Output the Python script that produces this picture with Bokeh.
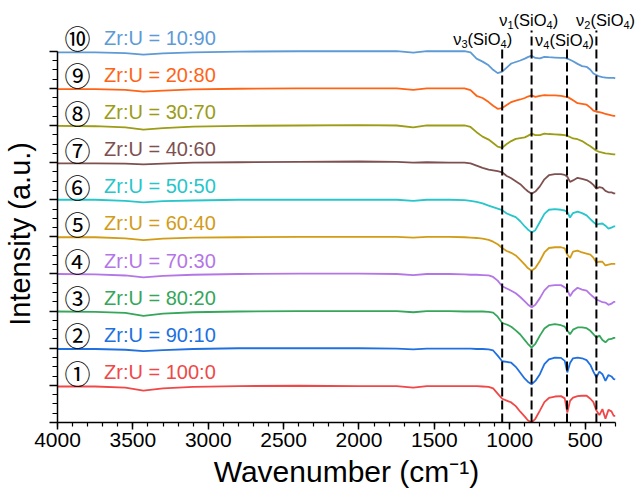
from bokeh.plotting import figure
from bokeh.models import ColumnDataSource, Range1d, FixedTicker, Label
from bokeh.core.properties import value
from bokeh.embed import file_html
from bokeh.resources import INLINE

# ---------------- data ----------------
wavenumber = [4000, 3750, 3550, 3430, 3300, 3100, 2800, 2400, 2000, 1750, 1640, 1550, 1400,
              1300, 1260, 1220, 1180, 1140, 1110, 1080, 1050, 1020, 990, 960, 930, 900, 880,
              855, 830, 800, 770, 740, 700, 660, 635, 618, 600, 580, 550, 520, 490, 465, 445,
              425, 405, 385, 365, 345, 325, 310, 300]

# relative intensities (a.u.), one spectrum per composition
s1 = [-0.03, -0.03, -0.06, -0.14, -0.08, -0.04, -0.02, -0.01, -0.02, -0.02, -0.06, -0.02, -0.02,
      -0.02, -0.02, -0.02, -0.03, -0.04, -0.08, -0.22, -0.36, -0.41, -0.46, -0.56, -0.71, -0.84, -0.94,
      -1.00, -0.90, -0.68, -0.45, -0.34, -0.30, -0.29, -0.35, -0.73, -0.42, -0.33, -0.29, -0.28, -0.28,
      -0.36, -0.45, -0.68, -0.80, -0.64, -0.90, -0.66, -0.70, -0.82, -0.82]
s2 = [-0.02, -0.02, -0.04, -0.08, -0.05, -0.02, 0.00, 0.00, 0.00, -0.01, -0.03, -0.01, -0.01,
      -0.01, -0.01, -0.02, -0.02, -0.03, -0.06, -0.20, -0.35, -0.37, -0.39, -0.50, -0.66, -0.82, -0.90,
      -0.97, -0.88, -0.70, -0.43, -0.30, -0.25, -0.26, -0.34, -0.65, -0.40, -0.27, -0.25, -0.27, -0.32,
      -0.45, -0.63, -0.78, -0.63, -0.70, -0.88, -0.72, -0.76, -0.83, -0.84]
s3 = [-0.01, -0.02, -0.05, -0.13, -0.07, -0.03, -0.01, 0.00, 0.00, 0.00, -0.03, 0.00, 0.00,
      -0.01, -0.01, -0.01, -0.01, -0.02, -0.04, -0.15, -0.32, -0.36, -0.42, -0.52, -0.63, -0.78, -0.88,
      -0.98, -0.88, -0.66, -0.47, -0.38, -0.35, -0.38, -0.42, -0.52, -0.62, -0.50, -0.44, -0.44, -0.46,
      -0.53, -0.62, -0.71, -0.66, -0.78, -0.84, -0.76, -0.75, -0.72, -0.72]
s4 = [0.00, -0.01, -0.04, -0.09, -0.05, -0.02, 0.00, 0.01, 0.01, 0.00, -0.03, 0.00, 0.00,
      -0.01, -0.02, -0.02, -0.03, -0.04, -0.08, -0.18, -0.33, -0.39, -0.45, -0.52, -0.62, -0.74, -0.82,
      -0.90, -0.83, -0.65, -0.44, -0.32, -0.30, -0.30, -0.36, -0.42, -0.60, -0.47, -0.37, -0.42, -0.45,
      -0.55, -0.62, -0.69, -0.72, -0.76, -0.77, -0.83, -0.80, -0.75, -0.75]
s5 = [-0.01, -0.01, -0.04, -0.09, -0.05, -0.02, -0.01, 0.00, 0.00, 0.00, -0.02, 0.00, 0.00,
      -0.01, -0.02, -0.03, -0.05, -0.08, -0.13, -0.20, -0.30, -0.38, -0.43, -0.50, -0.62, -0.75, -0.84,
      -0.91, -0.84, -0.65, -0.42, -0.30, -0.28, -0.28, -0.31, -0.48, -0.57, -0.40, -0.37, -0.42, -0.45,
      -0.48, -0.56, -0.69, -0.67, -0.67, -0.77, -0.75, -0.73, -0.73, -0.73]
s6 = [0.00, 0.00, -0.03, -0.07, -0.04, -0.02, 0.00, 0.00, 0.00, 0.00, -0.03, 0.00, 0.00,
      -0.01, -0.03, -0.06, -0.10, -0.16, -0.20, -0.24, -0.28, -0.37, -0.42, -0.47, -0.58, -0.72, -0.80,
      -0.88, -0.82, -0.60, -0.38, -0.27, -0.25, -0.27, -0.29, -0.33, -0.48, -0.36, -0.32, -0.36, -0.42,
      -0.52, -0.60, -0.67, -0.65, -0.64, -0.70, -0.78, -0.75, -0.72, -0.72]
s7 = [-0.02, -0.02, -0.03, -0.05, -0.03, 0.00, 0.01, 0.02, 0.03, 0.02, 0.00, 0.01, 0.00,
      0.00, -0.02, -0.08, -0.14, -0.19, -0.21, -0.23, -0.26, -0.36, -0.42, -0.50, -0.58, -0.70, -0.77,
      -0.84, -0.78, -0.64, -0.45, -0.34, -0.31, -0.31, -0.33, -0.38, -0.52, -0.48, -0.41, -0.44, -0.47,
      -0.53, -0.60, -0.70, -0.66, -0.68, -0.76, -0.80, -0.80, -0.83, -0.83]
s8 = [-0.01, -0.02, -0.05, -0.11, -0.07, -0.03, -0.01, 0.00, 0.01, 0.00, -0.05, 0.00, 0.00,
      0.00, -0.04, -0.18, -0.30, -0.38, -0.47, -0.57, -0.60, -0.50, -0.42, -0.36, -0.34, -0.32, -0.28,
      -0.22, -0.26, -0.26, -0.22, -0.23, -0.24, -0.25, -0.26, -0.28, -0.31, -0.35, -0.37, -0.42, -0.50,
      -0.56, -0.62, -0.68, -0.71, -0.73, -0.75, -0.76, -0.77, -0.78, -0.78]
s9 = [-0.02, -0.02, -0.04, -0.09, -0.06, -0.03, -0.01, 0.00, 0.00, 0.00, -0.04, 0.00, 0.00,
      0.00, -0.05, -0.20, -0.26, -0.37, -0.47, -0.55, -0.53, -0.45, -0.37, -0.33, -0.30, -0.26, -0.22,
      -0.19, -0.23, -0.20, -0.18, -0.19, -0.19, -0.20, -0.22, -0.23, -0.27, -0.32, -0.40, -0.42, -0.44,
      -0.52, -0.60, -0.63, -0.64, -0.66, -0.69, -0.71, -0.73, -0.74, -0.74]
s10 = [-0.03, -0.03, -0.05, -0.09, -0.06, -0.03, -0.01, 0.00, 0.00, 0.00, -0.04, 0.00, 0.00,
       0.00, -0.03, -0.20, -0.28, -0.38, -0.50, -0.59, -0.55, -0.44, -0.33, -0.29, -0.25, -0.20, -0.16,
       -0.12, -0.18, -0.19, -0.15, -0.16, -0.17, -0.18, -0.18, -0.20, -0.23, -0.27, -0.34, -0.40, -0.42,
       -0.50, -0.60, -0.64, -0.68, -0.70, -0.71, -0.72, -0.72, -0.72, -0.73]

spectra = [s1, s2, s3, s4, s5, s6, s7, s8, s9, s10]
ratios = ["100:0", "90:10", "80:20", "70:30", "60:40", "50:50", "40:60", "30:70", "20:80", "10:90"]
markers = ["\u2460", "\u2461", "\u2462", "\u2463", "\u2464", "\u2465", "\u2466", "\u2467", "\u2468", "\u2469"]

bands = [1050, 855, 620, 425]
band_modes = ["3", "1", "4", "2"]

# ---------------- styles ----------------
colors = ["#F04848", "#2070E0", "#35A65A", "#B476E6", "#D29C18",
          "#26C6CB", "#7E5050", "#9C9C16", "#FF6416", "#5E9AD6"]
FONT = "Liberation Sans"

p = figure(width=635, height=500, output_backend="svg", toolbar_location=None,
           x_range=Range1d(4000, 165.6), y_range=Range1d(0, 11.097))
p.min_border_left = 56
p.min_border_right = 0
p.min_border_top = 10
p.min_border_bottom = 78
p.outline_line_color = None
p.xgrid.visible = False
p.ygrid.visible = False
p.background_fill_color = "white"
p.border_fill_color = "white"

for i, (s, c) in enumerate(zip(spectra, colors)):
    off = i + 1
    src = ColumnDataSource(dict(x=wavenumber, y=[v + off for v in s]))
    p.line("x", "y", source=src, line_color=c, line_width=1.8)

# composition labels
lab_src = ColumnDataSource(dict(
    xm=[3868] * 10, xl=[3691] * 10,
    y=[i + 1 + 0.36 for i in range(10)],
    m=markers, t=["Zr:U = " + r for r in ratios], c=colors))
p.text(x="xm", y="y", text="m", source=lab_src, text_font=value("Noto Sans CJK SC"),
       text_font_size=value("26px"), text_color="black", text_align="center",
       text_baseline="middle")
p.text(x="xl", y="y", text="t", source=lab_src, text_font=value(FONT),
       text_font_size=value("20px"), text_color="c", text_align="left",
       text_baseline="middle")

# band markers
tops = [10.07, 10.56, 10.07, 10.56]
p.segment(x0=bands, y0=[0] * 4, x1=bands, y1=tops, line_color="black",
          line_width=2, line_dash="9 4")

MAIN, SUB = 16.5, 11
W_NU, W_DIG, W_SIO, W_PAR = 0.5 * MAIN, 0.556 * SUB, 2.0 * MAIN, 0.333 * MAIN


def band_label(xc, yc, mode):
    total = W_NU + W_DIG + W_SIO + W_DIG + W_PAR
    x0 = -total / 2
    pieces = [("\u03bd", MAIN, 0), (mode, SUB, -5), ("(SiO", MAIN, 0), ("4", SUB, -5), (")", MAIN, 0)]
    widths = [W_NU, W_DIG, W_SIO, W_DIG, W_PAR]
    for (txt, fs, dy), w in zip(pieces, widths):
        p.add_layout(Label(x=xc, y=yc, x_offset=x0, y_offset=dy, text=txt, text_font=FONT,
                           text_font_size=f"{fs}px", text_color="black",
                           text_align="left", text_baseline="middle"))
        x0 += w


label_x = [1179, 874, 636, 364]
label_y = [10.34, 10.83, 10.29, 10.83]
for lx, ly, mode in zip(label_x, label_y, band_modes):
    band_label(lx, ly, mode)

# axes
xa = p.xaxis[0]
xa.bounds = (300, 4000)
xa.ticker = FixedTicker(ticks=[4000, 3500, 3000, 2500, 2000, 1500, 1000, 500],
                        minor_ticks=list(range(300, 4001, 100)))
xa.axis_label = "Wavenumber (cm\u207b\u00b9)"
xa.axis_label_text_font = FONT
xa.axis_label_text_font_size = "30px"
xa.axis_label_text_font_style = "normal"
xa.axis_label_standoff = 5
xa.major_label_text_font = FONT
xa.major_label_text_font_size = "21px"
xa.major_label_standoff = 3
xa.major_tick_out = 7
xa.major_tick_in = 0
xa.minor_tick_out = 4
xa.minor_tick_in = 0
xa.axis_line_width = 1.5
xa.major_tick_line_width = 1.5
xa.minor_tick_line_width = 1.2
xa.axis_line_color = "black"
xa.major_tick_line_color = "black"
xa.minor_tick_line_color = "black"
xa.major_label_text_color = "black"
xa.axis_label_text_color = "black"

ya = p.yaxis[0]
ya.bounds = (0, 10)
ya.ticker = FixedTicker(ticks=list(range(0, 11)),
                        minor_ticks=[k * 0.25 for k in range(0, 41)])
# trailing em + thin space shift the centred title toward the axis bounds' centre
ya.axis_label = "Intensity (a.u.)\u2003\u2009"
ya.axis_label_text_font = FONT
ya.axis_label_text_font_size = "29px"
ya.axis_label_text_font_style = "normal"
ya.axis_label_text_color = "black"
ya.axis_label_standoff = 14
ya.major_label_text_font_size = "0px"
ya.major_label_text_color = None
ya.major_label_standoff = 0
ya.major_tick_out = 8
ya.major_tick_in = 0
ya.minor_tick_out = 5
ya.minor_tick_in = 0
ya.axis_line_width = 1.5
ya.major_tick_line_width = 1.5
ya.minor_tick_line_width = 1.2
ya.axis_line_color = "black"
ya.major_tick_line_color = "black"
ya.minor_tick_line_color = "black"

open("out.html", "w").write(file_html(p, INLINE))
